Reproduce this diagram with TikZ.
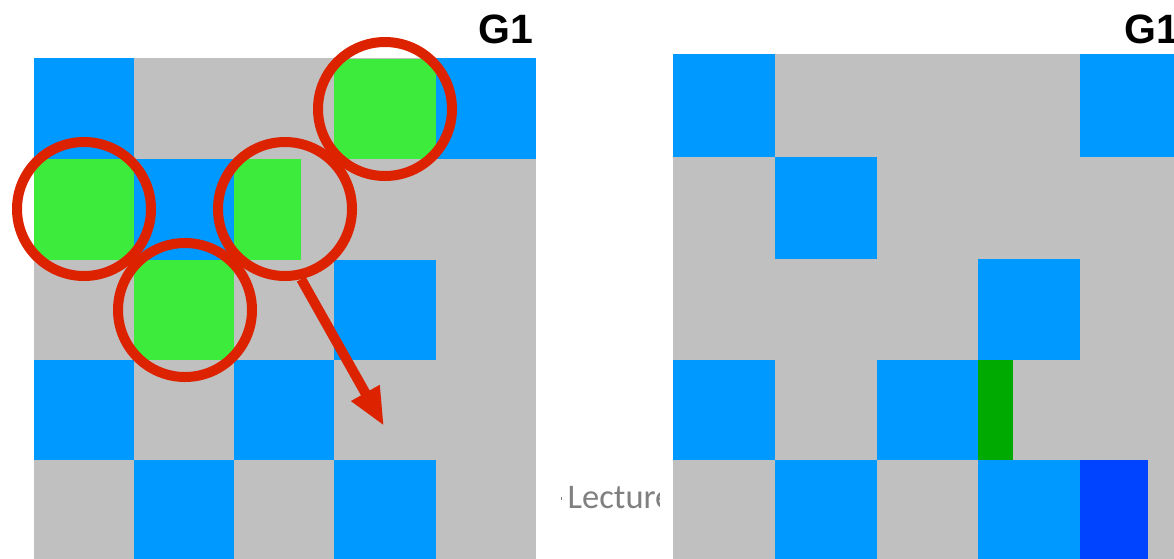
\documentclass[tikz,border=0pt]{standalone}
\usepackage{fontspec}
\setmainfont{Liberation Sans}
\newfontfamily\carlitofont{Carlito}
\usetikzlibrary{arrows.meta}
\definecolor{cblue}{RGB}{0,153,255}
\definecolor{cgray}{RGB}{192,192,192}
\definecolor{cgreen}{RGB}{61,235,61}
\definecolor{cdkgreen}{RGB}{0,170,0}
\definecolor{cdkblue}{RGB}{0,68,255}
\definecolor{cred}{RGB}{221,34,0}
\definecolor{ltext}{RGB}{128,128,128}
\tikzset{
  ring/.style={circle, draw=cred, line width=10pt, minimum size=134pt, inner sep=0pt},
  redarrow/.style={draw=cred, line width=10pt, -{Triangle[length=38pt,width=30pt]}},
  title/.style={inner sep=0pt, font=\bfseries\fontsize{41}{41}\selectfont},
  faint/.style={inner sep=0pt, text=ltext, font=\carlitofont\fontsize{34.5}{34.5}\selectfont}
}
\begin{document}
\begin{tikzpicture}[x=1pt,y=-1pt]
\useasboundingbox (0,0) rectangle (1174,558);
\clip (0,0) rectangle (1174,558);
% ---- left grid ----
\fill[cgray] (34,58) rectangle (536,560);
\fill[cblue] (34,58) rectangle (134,159);
\fill[cblue] (436,58) rectangle (536,159);
\fill[cblue] (134,159) rectangle (234,260);
\fill[cblue] (334,260) rectangle (436,360);
\fill[cblue] (34,360) rectangle (134,460);
\fill[cblue] (234,360) rectangle (334,460);
\fill[cblue] (134,460) rectangle (234,560);
\fill[cblue] (334,460) rectangle (436,560);
\fill[cgreen] (334,59) rectangle (436,159);
\fill[cgreen] (34,159) rectangle (134,260);
\fill[cgreen] (234,159) rectangle (301,260);
\fill[cgreen] (134,260) rectangle (234,360);
% ---- right grid ----
\fill[cgray] (673,54) rectangle (1180,560);
\fill[cblue] (673,54) rectangle (775,157);
\fill[cblue] (1080,54) rectangle (1180,157);
\fill[cblue] (775,157) rectangle (877,259);
\fill[cblue] (978,259) rectangle (1080,360);
\fill[cblue] (673,360) rectangle (775,460);
\fill[cblue] (877,360) rectangle (978,460);
\fill[cblue] (775,460) rectangle (877,560);
\fill[cblue] (978,460) rectangle (1080,560);
\fill[cdkgreen] (978,360) rectangle (1013,460);
\fill[cdkblue] (1080,460) rectangle (1148,560);
% ---- titles ----
\node[title, anchor=base east] (g1left) at (533,43) {G1};
\node[title, anchor=base west] (g1right) at (1124,43) {G1};
% ---- faint lecture text ----
\begin{scope}
\clip (540,470) rectangle (659,525);
\node[faint, anchor=base west] (lect) at (567.5,508) {Lecture};
\end{scope}
\fill[ltext] (560.5,496.5) rectangle (562,499.5);
% ---- circles and arrow ----
\node[ring] (c1) at (385,109) {};
\node[ring] (c2) at (84,209) {};
\node[ring] (c3) at (285,209) {};
\node[ring] (c4) at (185,310) {};
\coordinate (tip) at (384,426);
\draw[redarrow] (c3.-77) -- (tip);
\end{tikzpicture}
\end{document}
